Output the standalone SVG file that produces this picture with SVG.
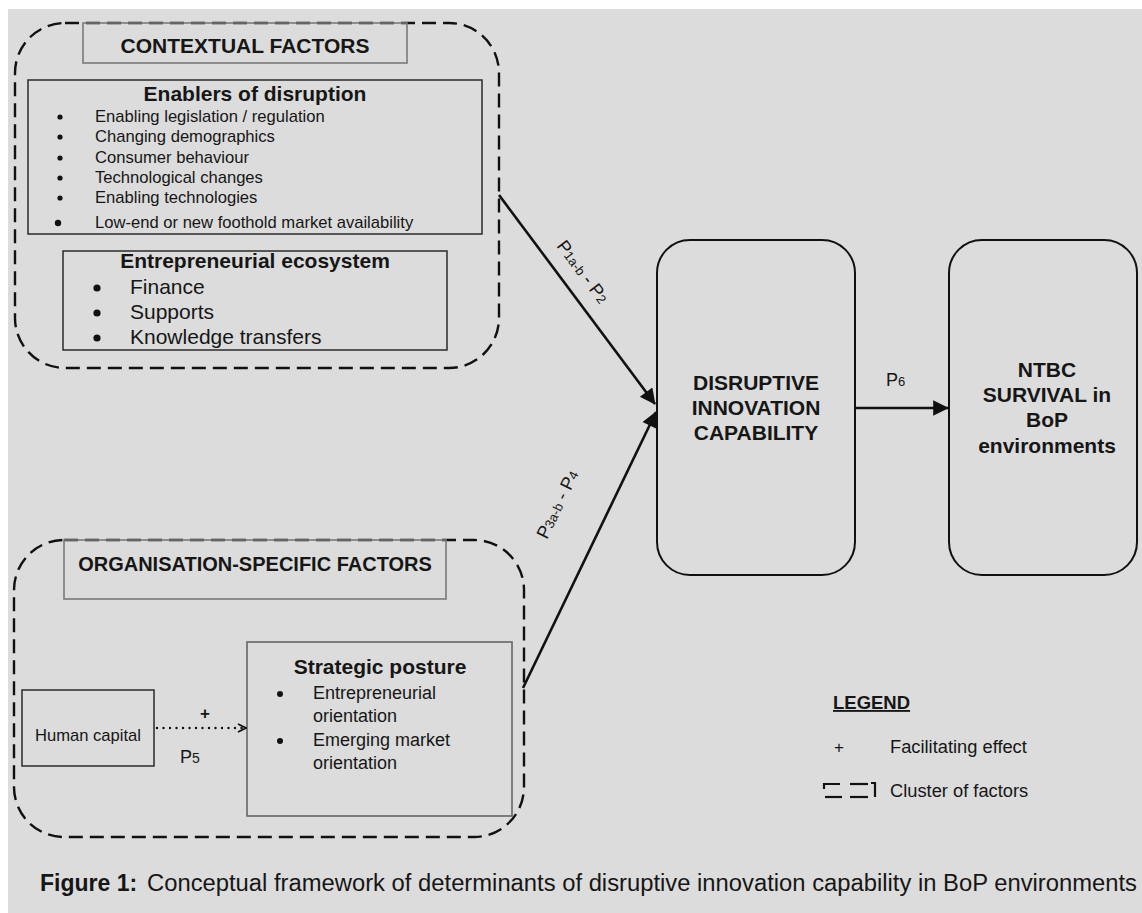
<svg xmlns="http://www.w3.org/2000/svg" width="1142" height="913" viewBox="0 0 1142 913">
  <style>
    text { font-family: "Liberation Sans", Arial, sans-serif; fill: #161616; }
    .b { font-weight: bold; }
    .cluster { fill: none; stroke: #111; stroke-width: 2.4; stroke-dasharray: 14 7; }
    .hdr { fill: none; stroke: #7a7a7a; stroke-width: 1.6; }
    .box { fill: none; stroke: #2a2a2a; stroke-width: 1.5; }
    .gbox { fill: none; stroke: #666; stroke-width: 1.6; }
    .node { fill: none; stroke: #111; stroke-width: 2; }
    .conn { stroke: #111; stroke-width: 2.6; fill: none; }
    .dot { fill: #111; }
  </style>
  <defs>
    <marker id="arrow" viewBox="0 0 10 10" refX="9.5" refY="5" markerWidth="7" markerHeight="6" markerUnits="strokeWidth" orient="auto">
      <path d="M0,0 L10,5 L0,10 z" fill="#111"/>
    </marker>
    <marker id="open" viewBox="0 0 10 10" refX="9" refY="5" markerWidth="10" markerHeight="10" markerUnits="userSpaceOnUse" orient="auto">
      <path d="M1,1 L9,5 L1,9" fill="none" stroke="#111" stroke-width="1.8"/>
    </marker>
  </defs>

  <!-- page -->
  <rect x="0" y="0" width="1142" height="913" fill="#ffffff"/>
  <rect x="8" y="9" width="1134" height="904" fill="#dcdcdc"/>

  <!-- contextual cluster -->
  <g id="contextual-factors">
    <rect class="cluster" x="15" y="23" width="484" height="345" rx="50" ry="50"/>
    <rect class="hdr" x="83" y="23" width="324" height="40"/>
    <text class="b" x="245" y="53" font-size="21" text-anchor="middle">CONTEXTUAL FACTORS</text>
  </g>

  <g id="enablers">
    <rect class="box" x="28" y="80" width="454" height="154"/>
    <text class="b" x="255" y="101" font-size="21" text-anchor="middle">Enablers of disruption</text>
    <g font-size="16.6">
      <circle class="dot" cx="60" cy="117" r="2.6"/><text x="95" y="122">Enabling legislation / regulation</text>
      <circle class="dot" cx="60" cy="137" r="2.6"/><text x="95" y="142">Changing demographics</text>
      <circle class="dot" cx="60" cy="158" r="2.6"/><text x="95" y="163">Consumer behaviour</text>
      <circle class="dot" cx="60" cy="178" r="2.6"/><text x="95" y="183">Technological changes</text>
      <circle class="dot" cx="60" cy="198" r="2.6"/><text x="95" y="203">Enabling technologies</text>
      <circle class="dot" cx="58" cy="223" r="3.2"/><text x="95" y="228">Low-end or new foothold market availability</text>
    </g>
  </g>

  <g id="ecosystem">
    <rect class="box" x="63" y="251" width="384" height="99"/>
    <text class="b" x="255" y="268" font-size="21" text-anchor="middle">Entrepreneurial ecosystem</text>
    <g font-size="21">
      <circle class="dot" cx="97" cy="288" r="3.6"/><text x="130" y="294">Finance</text>
      <circle class="dot" cx="97" cy="313" r="3.6"/><text x="130" y="319">Supports</text>
      <circle class="dot" cx="97" cy="338" r="3.6"/><text x="130" y="344">Knowledge transfers</text>
    </g>
  </g>

  <!-- organisation cluster -->
  <g id="organisation-factors">
    <rect class="cluster" x="14" y="540" width="510" height="297" rx="50" ry="50"/>
    <rect class="hdr" x="64" y="540" width="382" height="59"/>
    <text class="b" x="255" y="571" font-size="20" text-anchor="middle">ORGANISATION-SPECIFIC FACTORS</text>
  </g>

  <g id="human-capital">
    <rect class="box" x="22" y="690" width="132" height="76"/>
    <text x="88" y="741" font-size="16.6" text-anchor="middle">Human capital</text>
  </g>

  <g id="strategic-posture">
    <rect class="gbox" x="247" y="642" width="265" height="174"/>
    <text class="b" x="380" y="674" font-size="21" text-anchor="middle">Strategic posture</text>
    <g font-size="18">
      <circle class="dot" cx="280" cy="694" r="3"/><text x="313" y="699">Entrepreneurial</text>
      <text x="313" y="722">orientation</text>
      <circle class="dot" cx="280" cy="741" r="3"/><text x="313" y="746">Emerging market</text>
      <text x="313" y="769">orientation</text>
    </g>
  </g>

  <g id="disruptive-innovation-capability">
    <rect class="node" x="657" y="240" width="198" height="335" rx="33" ry="33"/>
    <g class="b" font-size="21" text-anchor="middle">
      <text x="756" y="390">DISRUPTIVE</text>
      <text x="756" y="415">INNOVATION</text>
      <text x="756" y="440">CAPABILITY</text>
    </g>
  </g>

  <g id="ntbc-survival">
    <rect class="node" x="949" y="240" width="188" height="335" rx="33" ry="33"/>
    <g class="b" font-size="21" text-anchor="middle">
      <text x="1047" y="377">NTBC</text>
      <text x="1047" y="402">SURVIVAL in</text>
      <text x="1047" y="427">BoP</text>
      <text x="1047" y="453">environments</text>
    </g>
  </g>

  <!-- connectors -->
  <g id="connectors">
    <line class="conn" x1="499" y1="195" x2="655" y2="404" marker-end="url(#arrow)"/>
    <line class="conn" x1="523" y1="688" x2="656" y2="412" marker-end="url(#arrow)"/>
    <line class="conn" x1="855" y1="408" x2="948" y2="408" marker-end="url(#arrow)"/>
    <line x1="157" y1="728" x2="246" y2="728" stroke="#111" stroke-width="2.4" stroke-linecap="round" stroke-dasharray="0 6.5" marker-end="url(#open)"/>

    <text transform="translate(556,246) rotate(53.2)" font-size="18">P<tspan font-size="13">1a-b</tspan> - P<tspan font-size="13">2</tspan></text>
    <text transform="translate(547,540) rotate(-64.2)" font-size="18">P<tspan font-size="13">3a-b</tspan> - P<tspan font-size="13">4</tspan></text>
    <text x="886" y="386" font-size="18">P<tspan font-size="13">6</tspan></text>
    <text class="b" x="205" y="719" font-size="17" text-anchor="middle">+</text>
    <text x="180" y="763" font-size="18">P<tspan font-size="14">5</tspan></text>
  </g>

  <!-- legend -->
  <g id="legend">
    <text class="b" x="833" y="709" font-size="18.5" text-decoration="underline">LEGEND</text>
    <text x="839" y="753" font-size="17" text-anchor="middle">+</text>
    <text x="890" y="753" font-size="18.3">Facilitating effect</text>
    <g fill="none" stroke="#111" stroke-width="2.2">
      <path d="M824,789 V784 H840"/>
      <path d="M825,797 H842"/>
      <path d="M850,784 H868"/>
      <path d="M850,797 H868"/>
      <path d="M871,783 H875 V797"/>
    </g>
    <text x="890" y="797" font-size="18.3">Cluster of factors</text>
  </g>

  <!-- caption -->
  <g id="caption">
    <text x="40" y="891" font-size="23"><tspan class="b">Figure 1:</tspan></text>
    <text x="147" y="891" font-size="23" textLength="990" lengthAdjust="spacingAndGlyphs">Conceptual framework of determinants of disruptive innovation capability in BoP environments</text>
  </g>
</svg>
